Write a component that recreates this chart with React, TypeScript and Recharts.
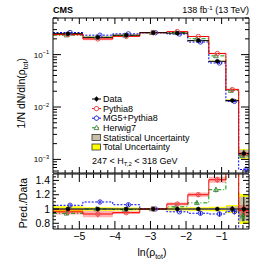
import React from 'react';
import { ComposedChart, Line, Area, Scatter, XAxis, YAxis, ErrorBar } from 'recharts';

const FONT = '"Liberation Sans", Arial, Helvetica, sans-serif';

// ---- data ----
const binEdges = [-5.74, -4.9, -4.06, -3.3, -2.54, -1.95, -1.36, -0.88, -0.52, -0.23];
const dataValues = [0.251, 0.214, 0.235, 0.262, 0.257, 0.185, 0.0745, 0.0133, 0.0013];
const dataStatUnc = [0.01, 0.01, 0.008, 0.006, 0.008, 0.01, 0.015, 0.04, 0.17];
const dataTotalUnc = [0.04, 0.025, 0.02, 0.015, 0.02, 0.025, 0.03, 0.055, 0.21];
const pythia8Values = [0.241, 0.199, 0.223, 0.262, 0.275, 0.222, 0.105, 0.0215, 0.00127];
const pythia8Unc = [0.04, 0.05, 0.02, 0.01, 0.02, 0.025, 0.03, 0.05, 0.08];
const mg5Values = [0.264, 0.235, 0.249, 0.262, 0.247, 0.174, 0.0693, 0.0128, 0.00064];
const mg5Unc = [0.02, 0.02, 0.02, 0.01, 0.01, 0.03, 0.04, 0.04, 0.15];
const herwig7Values = [0.236, 0.214, 0.233, 0.262, 0.265, 0.201, 0.0946, 0.0206, 0.00117];
const herwig7Unc = [0.03, 0.02, 0.02, 0.01, 0.01, 0.02, 0.03, 0.04, 0.08];

const xMajorTicks = [-5, -4, -3, -2, -1];
const xTickLabels = ['\u22125', '\u22124', '\u22123', '\u22122', '\u22121'];
const logMajorTicks = [0.001, 0.01, 0.1];
const logTickExponents = ['\u22123', '\u22122', '\u22121'];
const ratioMajorTicks = [0.8, 1, 1.2, 1.4];
const ratioTickLabels = ['0.8', '1', '1.2', '1.4'];

const X_DOMAIN: [number, number] = [-5.74, -0.23];
const LOG_DOMAIN: [number, number] = [0.00055, 0.5];
const RATIO_DOMAIN: [number, number] = [0.72, 1.49];

const COL = {
  pythia: '#ff0000',
  pythiaMarker: '#e85050',
  pythiaBand: '#ff0000',
  mg5: '#0000ff',
  mg5Marker: '#3a3acc',
  herwig: '#009900',
  herwigMarker: '#5a8a5a',
  total: '#ffff00',
  stat: '#c8c0a6',
};

// ---- derived tables ----
const nBins = dataValues.length;
const jIdx = (i: number) => Math.min(i, nBins - 1);
const centers = dataValues.map((_, i) => (binEdges[i] + binEdges[i + 1]) / 2);
const halfW = dataValues.map((_, i) => (binEdges[i + 1] - binEdges[i]) / 2);

const topSteps = binEdges.map((x, i) => {
  const j = jIdx(i);
  const d = dataValues[j];
  const p = pythia8Values[j];
  return {
    x,
    pythia: p,
    mg5: mg5Values[j],
    herwig: herwig7Values[j],
    tot: [d * (1 - dataTotalUnc[j]), d * (1 + dataTotalUnc[j])],
    stat: [d * (1 - dataStatUnc[j]), d * (1 + dataStatUnc[j])],
    pyBand: [p * (1 - pythia8Unc[j]), p * (1 + pythia8Unc[j])],
  };
});

const ratioSteps = binEdges.map((x, i) => {
  const j = jIdx(i);
  const d = dataValues[j];
  const pr = pythia8Values[j] / d;
  return {
    x,
    pythia: pr,
    mg5: mg5Values[j] / d,
    herwig: herwig7Values[j] / d,
    tot: [1 - dataTotalUnc[j], 1 + dataTotalUnc[j]],
    stat: [1 - dataStatUnc[j], 1 + dataStatUnc[j]],
    pyBand: [pr * (1 - pythia8Unc[j]), pr * (1 + pythia8Unc[j])],
  };
});

const OFF = { data: 0, pythia: 0, mg5: 0.06, herwig: -0.04 };

const dataPtsTop = dataValues.map((d, i) => ({
  x: centers[i], y: d, ex: halfW[i], ey: [d * dataStatUnc[i], d * dataStatUnc[i]],
}));
const dataPtsRatio = dataValues.map((_, i) => ({
  x: centers[i], y: 1, ex: halfW[i], ey: [dataStatUnc[i], dataStatUnc[i]],
}));
// markers falling outside the visible y-range are not drawn (as in the reference)
const modelPts = (vals: number[], unc: number[], off: number, ratio: boolean) =>
  vals
    .map((v, i) => {
      const y = ratio ? v / dataValues[i] : v;
      return { x: centers[i] + off, y, ey: [y * unc[i], y * unc[i]] };
    })
    .filter((p) => {
      const dom = ratio ? RATIO_DOMAIN : LOG_DOMAIN;
      return p.y >= dom[0] && p.y <= dom[1];
    });

const pythiaTop = modelPts(pythia8Values, pythia8Unc, OFF.pythia, false);
const mg5Top = modelPts(mg5Values, mg5Unc, OFF.mg5, false);
const herwigTop = modelPts(herwig7Values, herwig7Unc, OFF.herwig, false);
const pythiaRatio = modelPts(pythia8Values, pythia8Unc, OFF.pythia, true);
const mg5Ratio = modelPts(mg5Values, mg5Unc, OFF.mg5, true);
const herwigRatio = modelPts(herwig7Values, herwig7Unc, OFF.herwig, true);

// ---- ticks ----
const xAllTicks: number[] = [];
for (let k = -28; k <= -2; k++) xAllTicks.push(Math.round(k * 0.2 * 100) / 100);

const logAllTicks: number[] = [];
[0.0001, 0.001, 0.01, 0.1].forEach((dec) => {
  for (let m = 1; m <= 9; m++) {
    const v = m * dec;
    if (v >= LOG_DOMAIN[0] && v <= LOG_DOMAIN[1]) logAllTicks.push(parseFloat(v.toPrecision(3)));
  }
});

const ratioAllTicks: number[] = [];
for (let k = 15; k <= 29; k++) ratioAllTicks.push(Math.round(k * 0.05 * 100) / 100);

const isXMajor = (v: number) => Math.abs(v - Math.round(v)) < 1e-6;
const isLogMajor = (v: number) => {
  const l = Math.log10(v);
  return Math.abs(l - Math.round(l)) < 1e-6;
};
const isRatioMajor = (v: number) => Math.abs(v * 5 - Math.round(v * 5)) < 1e-6;

type Side = 'left' | 'right' | 'top' | 'bottom';
const tickBody = (
  props: any,
  side: Side,
  isMajor: (v: number) => boolean,
  majorLen: number,
  minorLen: number,
  label?: React.ReactNode,
) => {
  const { x, y, payload } = props;
  const v = payload ? payload.value : 0;
  const major = isMajor(v);
  const len = major ? majorLen : minorLen;
  let x2 = x;
  let y2 = y;
  if (side === 'left') x2 = x + len;
  if (side === 'right') x2 = x - len;
  if (side === 'top') y2 = y + len;
  if (side === 'bottom') y2 = y - len;
  return (
    <g>
      <line x1={x} y1={y} x2={x2} y2={y2} stroke="#000" strokeWidth={1} />
      {major ? label : null}
    </g>
  );
};

const makeTick = (side: Side, isMajor: (v: number) => boolean, majorLen: number, minorLen: number) => (props: any) =>
  tickBody(props, side, isMajor, majorLen, minorLen);

const leftLogTick = (props: any) => {
  const { x, y, payload } = props;
  const v = payload.value;
  const idx = logMajorTicks.findIndex((m) => Math.abs(m - v) / m < 1e-6);
  const label =
    idx >= 0 ? (
      <text x={x - 4} y={y + 3} textAnchor="end" fontFamily={FONT} fontSize={8} fill="#000">
        10
        <tspan dy={-3.5} fontSize={5.6}>
          {logTickExponents[idx]}
        </tspan>
      </text>
    ) : null;
  return tickBody(props, 'left', isLogMajor, 8, 4, label);
};

const ratioLeftTick = (props: any) => {
  const { x, y, payload } = props;
  const v = payload.value;
  const idx = ratioMajorTicks.findIndex((m) => Math.abs(m - v) < 1e-6);
  const label =
    idx >= 0 ? (
      <text x={x - 3} y={y + 3.7} textAnchor="end" fontFamily={FONT} fontSize={10.5} fill="#000">
        {ratioTickLabels[idx]}
      </text>
    ) : null;
  return tickBody(props, 'left', isRatioMajor, 6, 3, label);
};

const ratioBottomTick = (props: any) => {
  const { x, y, payload } = props;
  const v = payload.value;
  const idx = xMajorTicks.findIndex((m) => Math.abs(m - v) < 1e-6);
  const label =
    idx >= 0 ? (
      <text x={x} y={y + 10.5} textAnchor="middle" fontFamily={FONT} fontSize={10.5} fill="#000">
        {xTickLabels[idx]}
      </text>
    ) : null;
  return tickBody(props, 'bottom', isXMajor, 8, 4, label);
};

// ---- markers ----
const dot = (color: string) => (p: any) =>
  p.cx == null ? <g /> : <circle cx={p.cx} cy={p.cy} r={2} fill={color} stroke={color} strokeWidth={0.5} />;
const openCircle = (color: string) => (p: any) =>
  p.cx == null ? <g /> : <circle cx={p.cx} cy={p.cy} r={2.2} fill="none" stroke={color} strokeWidth={1} />;
const openTri = (color: string) => (p: any) =>
  p.cx == null ? (
    <g />
  ) : (
    <polygon
      points={`${p.cx},${p.cy - 2.6} ${p.cx - 2.4},${p.cy + 1.8} ${p.cx + 2.4},${p.cy + 1.8}`}
      fill="none"
      stroke={color}
      strokeWidth={1}
    />
  );

function Panel({ ratio }: { ratio: boolean }) {
  const steps = ratio ? ratioSteps : topSteps;
  const yDomain = ratio ? RATIO_DOMAIN : LOG_DOMAIN;
  const yTicks = ratio ? ratioAllTicks : logAllTicks;
  const xMajLen = ratio ? 8 : 6;
  const xMinLen = ratio ? 4 : 3;
  const yMajLen = ratio ? 6 : 8;
  const yMinLen = ratio ? 3 : 4;
  const isYMajor = ratio ? isRatioMajor : isLogMajor;
  const dPts = ratio ? dataPtsRatio : dataPtsTop;
  const pPts = ratio ? pythiaRatio : pythiaTop;
  const mPts = ratio ? mg5Ratio : mg5Top;
  const hPts = ratio ? herwigRatio : herwigTop;
  return (
    <ComposedChart
      width={254}
      height={ratio ? 98 : 174}
      data={steps}
      margin={{ top: 0, right: 0, bottom: 0, left: 0 }}
    >
      <XAxis
        xAxisId={0}
        dataKey="x"
        type="number"
        domain={X_DOMAIN}
        allowDataOverflow
        ticks={xAllTicks}
        interval={0}
        height={ratio ? 42 : 1}
        tickSize={0}
        tickMargin={0}
        tickLine={false}
        axisLine={{ stroke: '#000' }}
        tick={ratio ? ratioBottomTick : makeTick('bottom', isXMajor, xMajLen, xMinLen)}
      />
      <XAxis
        xAxisId="top"
        orientation="top"
        dataKey="x"
        type="number"
        domain={X_DOMAIN}
        allowDataOverflow
        ticks={xAllTicks}
        interval={0}
        height={ratio ? 1 : 18}
        tickSize={0}
        tickMargin={0}
        tickLine={false}
        axisLine={{ stroke: '#000' }}
        tick={makeTick('top', isXMajor, xMajLen, xMinLen)}
      />
      <YAxis
        yAxisId={0}
        type="number"
        scale={ratio ? 'linear' : 'log'}
        domain={yDomain}
        allowDataOverflow
        ticks={yTicks}
        interval={0}
        width={53}
        tickSize={0}
        tickMargin={0}
        tickLine={false}
        axisLine={{ stroke: '#000' }}
        tick={ratio ? ratioLeftTick : leftLogTick}
      />
      <YAxis
        yAxisId="right"
        orientation="right"
        type="number"
        scale={ratio ? 'linear' : 'log'}
        domain={yDomain}
        allowDataOverflow
        ticks={yTicks}
        interval={0}
        width={5}
        tickSize={0}
        tickMargin={0}
        tickLine={false}
        axisLine={{ stroke: '#000' }}
        tick={makeTick('right', isYMajor, yMajLen, yMinLen)}
      />
      <Area dataKey="tot" type="stepAfter" fill={COL.total} fillOpacity={1} stroke="none" isAnimationActive={false} />
      <Area dataKey="stat" type="stepAfter" fill={COL.stat} fillOpacity={1} stroke="none" isAnimationActive={false} />
      <Area dataKey="pyBand" type="stepAfter" fill={COL.pythiaBand} fillOpacity={0.3} stroke="none" isAnimationActive={false} />
      <Line dataKey="herwig" type="stepAfter" stroke={COL.herwig} strokeWidth={1} strokeDasharray="4 2 1 2" dot={false} isAnimationActive={false} />
      <Line dataKey="mg5" type="stepAfter" stroke={COL.mg5} strokeWidth={1} strokeDasharray="2 1.5" dot={false} isAnimationActive={false} />
      <Line dataKey="pythia" type="stepAfter" stroke={COL.pythia} strokeWidth={1} dot={false} isAnimationActive={false} />
      <Scatter data={hPts} dataKey="y" shape={openTri(COL.herwigMarker)} isAnimationActive={false}>
        <ErrorBar dataKey="ey" direction="y" width={0} stroke={COL.herwig} strokeWidth={1} />
      </Scatter>
      <Scatter data={mPts} dataKey="y" shape={openCircle(COL.mg5Marker)} isAnimationActive={false}>
        <ErrorBar dataKey="ey" direction="y" width={0} stroke={COL.mg5} strokeWidth={1} />
      </Scatter>
      <Scatter data={pPts} dataKey="y" shape={openCircle(COL.pythiaMarker)} isAnimationActive={false}>
        <ErrorBar dataKey="ey" direction="y" width={0} stroke={COL.pythiaMarker} strokeWidth={1} />
      </Scatter>
      <Scatter data={dPts} dataKey="y" shape={dot('#000')} isAnimationActive={false}>
        <ErrorBar dataKey="ex" direction="x" width={0} stroke="#000" strokeWidth={1} />
        <ErrorBar dataKey="ey" direction="y" width={0} stroke="#000" strokeWidth={1} />
      </Scatter>
    </ComposedChart>
  );
}

function Overlay() {
  const lx = 92;
  const tx = 103;
  const row = (i: number) => 99 + 9.6 * i;
  const fs = 9;
  return (
    <svg width={254} height={271} style={{ position: 'absolute', left: 0, top: 0, pointerEvents: 'none' }}>
      <text x={53} y={13} fontFamily={FONT} fontWeight="bold" fontSize={9}>CMS</text>
      <text x={249} y={13} textAnchor="end" fontFamily={FONT} fontSize={9}>
        138 fb<tspan dy={-3.5} fontSize={6}>-1</tspan>
        <tspan dy={3.5}> (13 TeV)</tspan>
      </text>
      <g fontFamily={FONT} fontSize={fs}>
        <line x1={lx} y1={row(0)} x2={lx + 9} y2={row(0)} stroke="#000" />
        <line x1={lx + 4.5} y1={row(0) - 2.5} x2={lx + 4.5} y2={row(0) + 2.5} stroke="#000" />
        <circle cx={lx + 4.5} cy={row(0)} r={2} fill="#000" />
        <text x={tx} y={row(0) + 3.2}>Data</text>

        <line x1={lx} y1={row(1)} x2={lx + 9} y2={row(1)} stroke={COL.pythia} />
        <line x1={lx + 4.5} y1={row(1) - 2.5} x2={lx + 4.5} y2={row(1) + 2.5} stroke={COL.pythiaMarker} />
        <circle cx={lx + 4.5} cy={row(1)} r={2.2} fill="#fff" stroke={COL.pythiaMarker} />
        <text x={tx} y={row(1) + 3.2}>Pythia8</text>

        <line x1={lx} y1={row(2)} x2={lx + 9} y2={row(2)} stroke={COL.mg5} strokeDasharray="2 1.5" />
        <line x1={lx + 4.5} y1={row(2) - 2.5} x2={lx + 4.5} y2={row(2) + 2.5} stroke={COL.mg5} />
        <circle cx={lx + 4.5} cy={row(2)} r={2.2} fill="#fff" stroke={COL.mg5Marker} />
        <text x={tx} y={row(2) + 3.2}>MG5+Pythia8</text>

        <line x1={lx} y1={row(3)} x2={lx + 9} y2={row(3)} stroke={COL.herwig} strokeDasharray="4 2 1 2" />
        <polygon
          points={`${lx + 4.5},${row(3) - 2.6} ${lx + 2.1},${row(3) + 1.8} ${lx + 6.9},${row(3) + 1.8}`}
          fill="#fff"
          stroke={COL.herwigMarker}
        />
        <text x={tx} y={row(3) + 3.2}>Herwig7</text>

        <rect x={lx} y={row(4) - 3} width={8.5} height={6} fill={COL.stat} stroke="#333" strokeWidth={0.8} />
        <text x={tx} y={row(4) + 3.2}>Statistical Uncertainty</text>

        <rect x={lx} y={row(5) - 3} width={8.5} height={6} fill={COL.total} stroke="#333" strokeWidth={0.8} />
        <text x={tx} y={row(5) + 3.2}>Total Uncertainty</text>

        <text x={lx} y={163.5}>
          247 &lt; H<tspan dy={2.5} fontSize={6}>T,2</tspan>
          <tspan dy={-2.5}> &lt; 318 GeV</tspan>
        </text>
      </g>
      <text transform="translate(25,58) rotate(-90)" textAnchor="end" fontFamily={FONT} fontSize={10.5}>
        1/N dN/dln(ρ<tspan dy={2.5} fontSize={7}>tot</tspan>
        <tspan dy={-2.5}>)</tspan>
      </text>
      <text transform="translate(26.5,178) rotate(-90)" textAnchor="end" fontFamily={FONT} fontSize={10.5}>
        Pred./Data
      </text>
      <text x={152} y={256} textAnchor="middle" fontFamily={FONT} fontSize={10.5}>
        ln(ρ<tspan dy={2.5} fontSize={7}>tot</tspan>
        <tspan dy={-2.5}>)</tspan>
      </text>
    </svg>
  );
}

export default function App() {
  return (
    <div style={{ position: 'absolute', left: 0, top: 0, width: 254, height: 271, background: '#fff' }}>
      <div style={{ position: 'absolute', left: 0, top: 0 }}>
        <Panel ratio={false} />
      </div>
      <div style={{ position: 'absolute', left: 0, top: 173 }}>
        <Panel ratio={true} />
      </div>
      <Overlay />
    </div>
  );
}
